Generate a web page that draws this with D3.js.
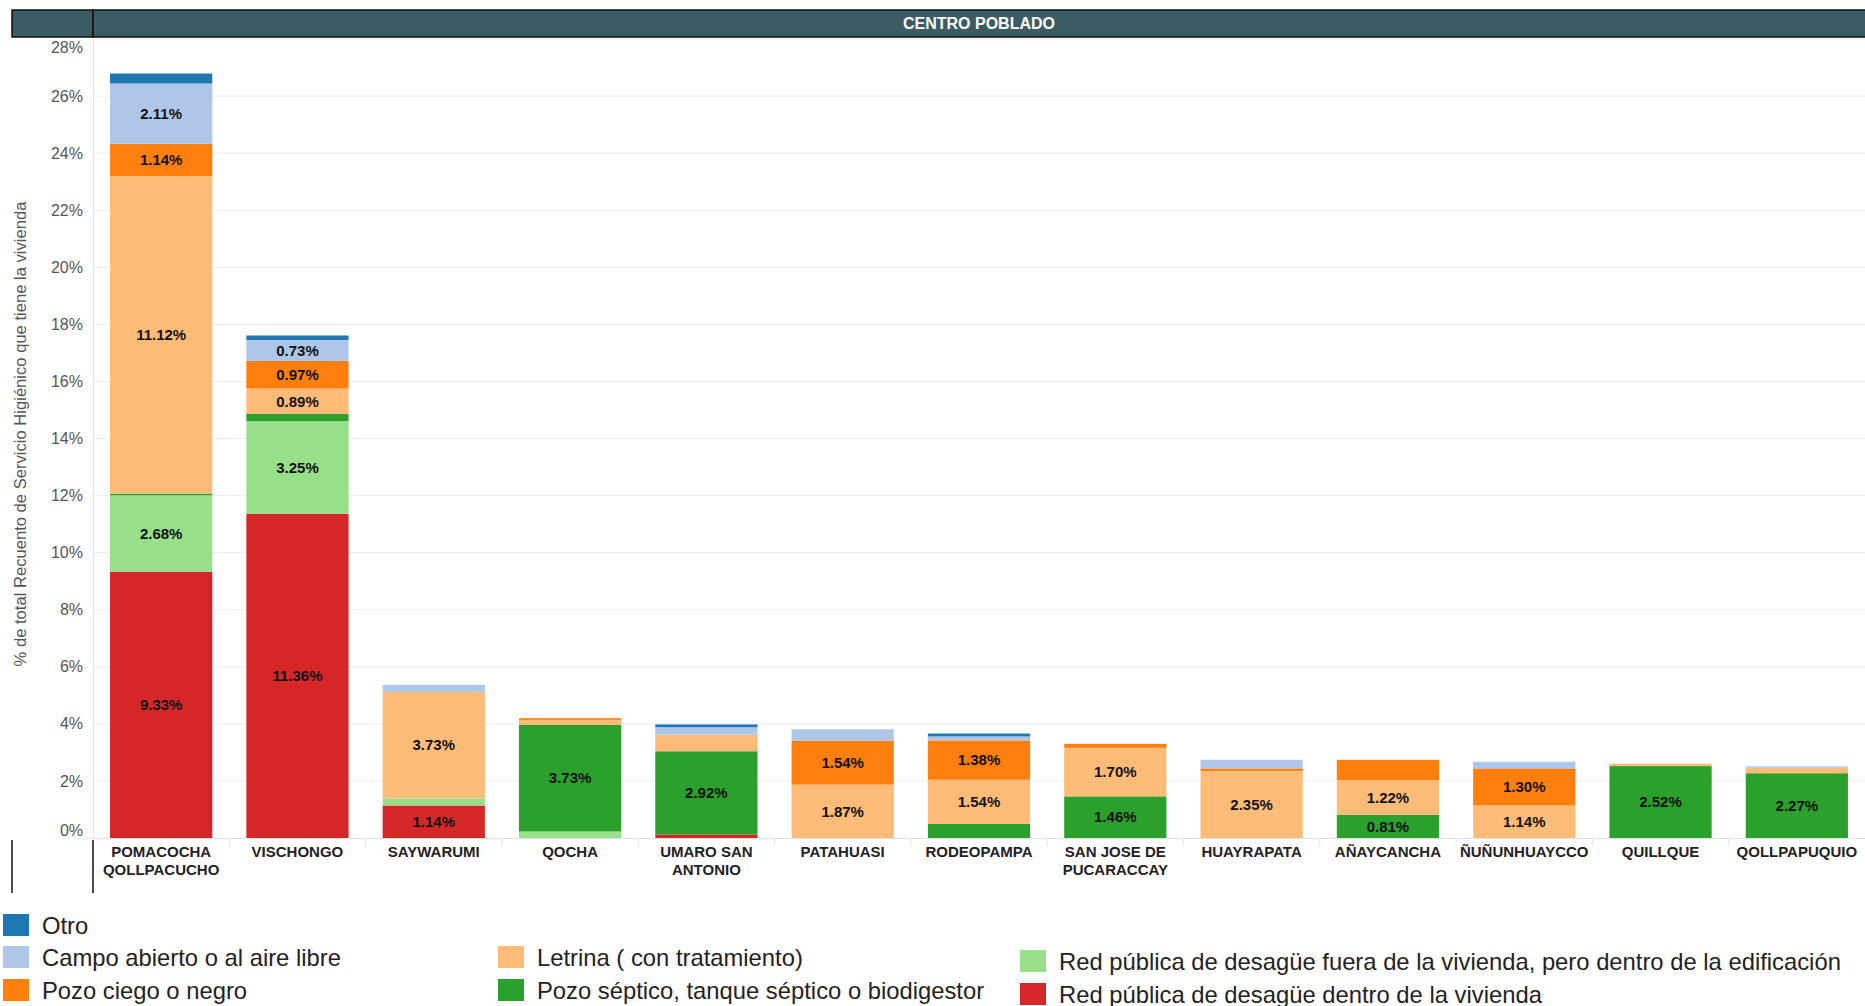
<!DOCTYPE html>
<html>
<head>
<meta charset="utf-8">
<script src="https://cdn.jsdelivr.net/npm/d3@7"></script>
<style>
  body { margin: 0; background: #fff; overflow: hidden; }
  svg { display: block; font-family: "Liberation Sans", Arial, sans-serif; }
</style>
</head>
<body>
<svg id="chart" width="1865" height="1006"></svg>
<script>
// Data (percent of total)
const categories = ["POMACOCHA QOLLPACUCHO", "VISCHONGO", "SAYWARUMI", "QOCHA", "UMARO SAN ANTONIO",
  "PATAHUASI", "RODEOPAMPA", "SAN JOSE DE PUCARACCAY", "HUAYRAPATA", "AÑAYCANCHA",
  "ÑUÑUNHUAYCCO", "QUILLQUE", "QOLLPAPUQUIO"];

// wrapped axis labels
const categoryLines = [["POMACOCHA", "QOLLPACUCHO"], ["VISCHONGO"], ["SAYWARUMI"], ["QOCHA"],
  ["UMARO SAN", "ANTONIO"], ["PATAHUASI"], ["RODEOPAMPA"], ["SAN JOSE DE", "PUCARACCAY"],
  ["HUAYRAPATA"], ["AÑAYCANCHA"], ["ÑUÑUNHUAYCCO"], ["QUILLQUE"], ["QOLLPAPUQUIO"]];

const redDentro   = [9.33, 11.36, 1.14, 0,    0.12, 0,    0,    0,    0,    0,    0,    0,    0];
const redFuera    = [2.68, 3.25,  0.25, 0.23, 0,    0,    0,    0,    0,    0,    0,    0,    0];
const pozoSeptico = [0.06, 0.25,  0,    3.73, 2.92, 0,    0.50, 1.46, 0,    0.81, 0,    2.52, 2.27];
const letrina     = [11.12, 0.89, 3.73, 0.18, 0.58, 1.87, 1.54, 1.70, 2.35, 1.22, 1.14, 0.08, 0.19];
const pozoCiego   = [1.14, 0.97,  0,    0.06, 0,    1.54, 1.38, 0.14, 0.09, 0.71, 1.30, 0,    0];
const campo       = [2.11, 0.73,  0.25, 0,    0.26, 0.40, 0.14, 0,    0.30, 0,    0.23, 0,    0.05];
const otro        = [0.35, 0.16,  0,    0,    0.10, 0,    0.10, 0,    0,    0,    0,    0,    0];

const yTicks = [0, 2, 4, 6, 8, 10, 12, 14, 16, 18, 20, 22, 24, 26, 28];

// stack order, bottom to top
const series = [
  { key: "redDentro", name: "Red pública de desagüe dentro de la vivienda", color: "#d62728", values: redDentro },
  { key: "redFuera", name: "Red pública de desagüe fuera de la vivienda, pero dentro de la edificación", color: "#98df8a", values: redFuera },
  { key: "pozoSeptico", name: "Pozo séptico, tanque séptico o biodigestor", color: "#2ca02c", values: pozoSeptico },
  { key: "letrina", name: "Letrina ( con tratamiento)", color: "#ffbb78", values: letrina },
  { key: "pozoCiego", name: "Pozo ciego o negro", color: "#ff7f0e", values: pozoCiego },
  { key: "campo", name: "Campo abierto o al aire libre", color: "#aec7e8", values: campo },
  { key: "otro", name: "Otro", color: "#1f77b4", values: otro }
];

// legend layout (column, row) like the original
const legendOrder = [
  ["otro", 0, 0], ["campo", 0, 1], ["pozoCiego", 0, 2],
  ["letrina", 1, 1], ["pozoSeptico", 1, 2],
  ["redFuera", 2, 1], ["redDentro", 2, 2]
];

const table = categories.map((c, i) => {
  const row = { cat: c };
  series.forEach(s => row[s.key] = s.values[i]);
  return row;
});

const svg = d3.select("#chart");
const plotLeft = 93, plotRight = 1865, plotTop = 39, plotBottom = 838;

const x = d3.scaleBand().domain(categories).range([plotLeft, plotRight]).paddingInner(0.25).paddingOuter(0.125);
const y = d3.scaleLinear().domain([0, 28]).range([plotBottom, plotTop]);

// header
svg.append("rect").attr("x", 12).attr("y", 10).attr("width", plotLeft - 12).attr("height", 27)
  .attr("fill", "#3d5b63").attr("stroke", "#111").attr("stroke-width", 1.5);
svg.append("rect").attr("x", plotLeft).attr("y", 10).attr("width", plotRight - plotLeft + 5).attr("height", 27)
  .attr("fill", "#3d5b63").attr("stroke", "#111").attr("stroke-width", 1.5);
svg.append("text").attr("x", (plotLeft + plotRight) / 2).attr("y", 23).attr("dy", "0.35em")
  .attr("text-anchor", "middle").attr("fill", "#fff").attr("font-weight", "bold")
  .attr("font-size", 16).text("CENTRO POBLADO");

// gridlines
svg.append("g").selectAll("line").data(yTicks.filter(d => d > 0)).enter().append("line")
  .attr("x1", plotLeft).attr("x2", plotRight)
  .attr("y1", d => y(d)).attr("y2", d => y(d))
  .attr("stroke", "#ececec").attr("stroke-width", 1);

// y axis
const yAxis = d3.axisLeft(y).tickValues(yTicks).tickFormat(d => d + "%").tickSize(0).tickPadding(10);
const gy = svg.append("g").attr("transform", "translate(" + plotLeft + ",0)").call(yAxis);
gy.select(".domain").attr("stroke", "#e2e2e2");
gy.selectAll("text").attr("font-size", 16).attr("fill", "#555")
  .attr("font-family", "'Liberation Sans', Arial, sans-serif")
  .attr("dy", d => d === 28 ? "0.85em" : d === 0 ? "-0.15em" : "0.32em");

svg.append("text")
  .attr("transform", "translate(26," + 434 + ") rotate(-90)")
  .attr("text-anchor", "middle").attr("font-size", 16.6).attr("fill", "#555")
  .text("% de total Recuento de Servicio Higiénico que tiene la vivienda");

// stacked bars
const stacked = d3.stack().keys(series.map(s => s.key))(table);

const layers = svg.append("g").selectAll("g").data(stacked).enter().append("g")
  .attr("fill", (d, i) => series[i].color);

layers.selectAll("rect").data(d => d).enter().append("rect")
  .attr("x", d => x(d.data.cat))
  .attr("width", x.bandwidth())
  .attr("y", d => y(d[1]))
  .attr("height", d => y(d[0]) - y(d[1]));

// value labels
layers.selectAll("text").data(d => d.filter(v => v[1] - v[0] >= 0.72)).enter().append("text")
  .attr("x", d => x(d.data.cat) + x.bandwidth() / 2)
  .attr("y", d => y((d[0] + d[1]) / 2))
  .attr("dy", "0.35em")
  .attr("text-anchor", "middle").attr("font-size", 15).attr("font-weight", "bold").attr("fill", "#111")
  .text(d => (d[1] - d[0]).toFixed(2) + "%");

// baseline and category separators
svg.append("line").attr("x1", 85).attr("x2", plotRight).attr("y1", plotBottom + 0.5).attr("y2", plotBottom + 0.5)
  .attr("stroke", "#e2e2e2");
svg.append("g").selectAll("line").data(categories.slice(1)).enter().append("line")
  .attr("x1", d => x(d) - x.step() * x.paddingInner() / 2)
  .attr("x2", d => x(d) - x.step() * x.paddingInner() / 2)
  .attr("y1", plotBottom + 1).attr("y2", plotBottom + 8)
  .attr("stroke", "#e4e4e4");

// row header borders
[12, plotLeft].forEach(px => {
  svg.append("line").attr("x1", px).attr("x2", px).attr("y1", plotBottom + 2).attr("y2", 893)
    .attr("stroke", "#111").attr("stroke-width", 1.5);
});

// category labels
const xl = svg.append("g").selectAll("text").data(categories).enter().append("text")
  .attr("x", d => x(d) + x.bandwidth() / 2)
  .attr("y", 857)
  .attr("text-anchor", "middle").attr("font-size", 15).attr("font-weight", "bold").attr("fill", "#222");
xl.selectAll("tspan").data((d, i) => categoryLines[i]).enter().append("tspan")
  .attr("x", function () { return this.parentNode.getAttribute("x"); })
  .attr("dy", (d, i) => i === 0 ? 0 : 18)
  .text(d => d);

// legend
const colX = [3, 498, 1020];
const rowY = [925, 957, 990];
const lg = svg.append("g").selectAll("g").data(legendOrder).enter().append("g")
  .attr("transform", d => "translate(" + colX[d[1]] + "," + (rowY[d[2]] + (d[1] === 2 ? 4 : 0)) + ")");
lg.append("rect").attr("x", 0).attr("y", -11).attr("width", 26).attr("height", 22)
  .attr("fill", d => series.find(s => s.key === d[0]).color);
lg.append("text").attr("x", 39).attr("dy", "0.36em").attr("font-size", 23.8).attr("fill", "#222")
  .text(d => series.find(s => s.key === d[0]).name);
</script>
</body>
</html>
